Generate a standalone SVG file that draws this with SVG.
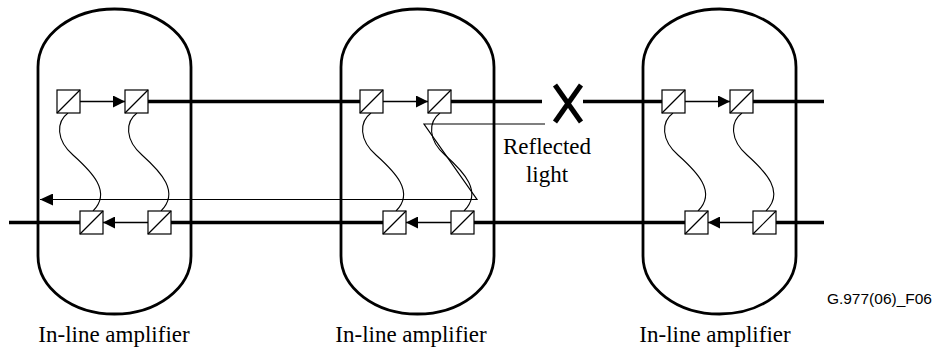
<svg xmlns="http://www.w3.org/2000/svg" width="935" height="350" viewBox="0 0 935 350">
<style>
.pill{fill:none;stroke:#000;stroke-width:2.8}
.box{fill:#fff;stroke:#000;stroke-width:1.2}
.diag{stroke:#000;stroke-width:1.2}
.fiber{fill:none;stroke:#000;stroke-width:1.1}
.arr{stroke:#000;stroke-width:1.6;fill:none}
.thick{stroke:#000;stroke-width:3.5;fill:none}
.thin{stroke:#000;stroke-width:1.2;fill:none}
.lbl{font-family:"Liberation Serif","Times New Roman",serif;font-size:23px;fill:#000}
.tag{font-family:"Liberation Sans",Arial,sans-serif;font-size:15.5px;fill:#000}
</style>
<defs>
<marker id="ah" markerUnits="userSpaceOnUse" markerWidth="12" markerHeight="12" refX="12" refY="6" orient="auto">
<path d="M0,0 L12,6 L0,12 z" fill="#000"/>
</marker>
<marker id="ahThin" markerUnits="userSpaceOnUse" markerWidth="13" markerHeight="12" refX="13" refY="6" orient="auto">
<path d="M0,0 L13,6 L0,12 z" fill="#000"/>
</marker>
<g id="amp">
<rect class="pill" x="0" y="9" width="153" height="305" rx="76.5" ry="58"/>
<path class="fiber" d="M30,113 C18,122 18,140 35,155 C54,172 74,192 55,211"/>
<path class="fiber" d="M99,113 C87,122 87,140 104,155 C123,172 142,192 123,211"/>
<line class="arr" x1="42" y1="101.5" x2="87" y2="101.5" marker-end="url(#ah)"/>
<line class="arr" x1="110" y1="222.5" x2="65" y2="222.5" marker-end="url(#ah)"/>
<rect class="box" x="19" y="90" width="23" height="23"/>
<line class="diag" x1="19" y1="113" x2="42" y2="90"/>
<rect class="box" x="87" y="90" width="23" height="23"/>
<line class="diag" x1="87" y1="113" x2="110" y2="90"/>
<rect class="box" x="42" y="211" width="23" height="23"/>
<line class="diag" x1="42" y1="234" x2="65" y2="211"/>
<rect class="box" x="110" y="211" width="23" height="23"/>
<line class="diag" x1="110" y1="234" x2="133" y2="211"/>
</g>
</defs>
<g id="connectors">
<line class="thick" x1="148" y1="101.5" x2="360" y2="101.5"/>
<line class="thick" x1="451" y1="101.5" x2="542" y2="101.5"/>
<line class="thick" x1="583" y1="101.5" x2="662" y2="101.5"/>
<line class="thick" x1="753" y1="101.5" x2="824" y2="101.5"/>
<line class="thick" x1="9" y1="222.5" x2="80" y2="222.5"/>
<line class="thick" x1="171" y1="222.5" x2="383" y2="222.5"/>
<line class="thick" x1="474" y1="222.5" x2="685" y2="222.5"/>
<line class="thick" x1="776" y1="222.5" x2="824" y2="222.5"/>
<polyline class="thin" points="545,124 424,124 477,199.5 40,199.5" marker-end="url(#ahThin)"/>
</g>
<g id="break">
<line x1="555" y1="85" x2="581" y2="122" stroke="#000" stroke-width="5"/>
<line x1="581" y1="85" x2="555" y2="122" stroke="#000" stroke-width="5"/>
</g>
<g id="amp1"><use href="#amp" x="38" y="0"/><text class="lbl" x="114" y="342" text-anchor="middle">In-line amplifier</text></g>
<g id="amp2"><use href="#amp" x="341" y="0"/><text class="lbl" x="411" y="342" text-anchor="middle">In-line amplifier</text></g>
<g id="amp3"><use href="#amp" x="643" y="0"/><text class="lbl" x="715" y="342" text-anchor="middle">In-line amplifier</text></g>
<g id="reflected-label">
<text class="lbl" x="547" y="154" text-anchor="middle">Reflected</text>
<text class="lbl" x="547" y="182" text-anchor="middle">light</text>
</g>
<text class="tag" x="932" y="304" text-anchor="end">G.977(06)_F06</text>
</svg>
